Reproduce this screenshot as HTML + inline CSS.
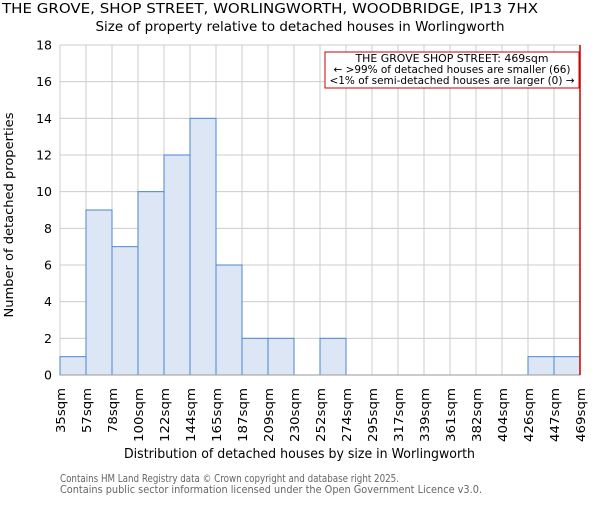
<!DOCTYPE html>
<html><head><meta charset="utf-8"><style>body{margin:0;background:#fff}svg text{font-family:"DejaVu Sans","Liberation Sans",sans-serif}</style></head>
<body>
<svg id="c" width="600" height="500" xmlns="http://www.w3.org/2000/svg">
<text x="2" y="13" font-size="13.4" textLength="536" lengthAdjust="spacingAndGlyphs">THE GROVE, SHOP STREET, WORLINGWORTH, WOODBRIDGE, IP13 7HX</text>
<text x="300" y="31" font-size="13" text-anchor="middle" textLength="409" lengthAdjust="spacingAndGlyphs">Size of property relative to detached houses in Worlingworth</text>
<g id="grid"></g><g id="bars"></g><g id="ticks"></g>
<text x="124" y="458" font-size="13" textLength="351" lengthAdjust="spacingAndGlyphs">Distribution of detached houses by size in Worlingworth</text>
<text transform="translate(13,215) rotate(-90)" font-size="12.5" text-anchor="middle" textLength="205" lengthAdjust="spacingAndGlyphs">Number of detached properties</text>
<g>
<rect x="325" y="52" width="254" height="36" fill="#fff" stroke="#c00" stroke-width="1"/>
<text x="452" y="62" font-size="10.5" text-anchor="middle" textLength="193" lengthAdjust="spacingAndGlyphs">THE GROVE SHOP STREET: 469sqm</text>
<text x="452" y="73" font-size="10.5" text-anchor="middle" textLength="237" lengthAdjust="spacingAndGlyphs">← &gt;99% of detached houses are smaller (66)</text>
<text x="452" y="84" font-size="10.5" text-anchor="middle" textLength="245" lengthAdjust="spacingAndGlyphs">&lt;1% of semi-detached houses are larger (0) →</text>
</g>
<text x="60" y="482" font-size="10.5" fill="#666" textLength="339" lengthAdjust="spacingAndGlyphs">Contains HM Land Registry data © Crown copyright and database right 2025.</text>
<text x="60" y="493" font-size="10.5" fill="#666" textLength="422" lengthAdjust="spacingAndGlyphs">Contains public sector information licensed under the Open Government Licence v3.0.</text>
</svg>
<script>
const categories=["35sqm","57sqm","78sqm","100sqm","122sqm","144sqm","165sqm","187sqm","209sqm","230sqm","252sqm","274sqm","295sqm","317sqm","339sqm","361sqm","382sqm","404sqm","426sqm","447sqm","469sqm"];
const counts=[1,9,7,10,12,14,6,2,2,0,2,0,0,0,0,0,0,0,1,1];
const yTicks=[0,2,4,6,8,10,12,14,16,18];
const markerIndex=20;
const X0=60,X1=580,Y0=375,Y1=45,YMAX=18;
const nb=counts.length;
const x=i=>X0+(X1-X0)*i/nb;
const y=v=>Y0-(Y0-Y1)*v/YMAX;
const NS="http://www.w3.org/2000/svg";
function mk(p,t,a){const e=document.createElementNS(NS,t);for(const k in a)e.setAttribute(k,a[k]);document.getElementById(p).appendChild(e);return e;}
yTicks.forEach(v=>{
 const l=mk('grid','line',{x1:X0,x2:X1,y1:y(v),y2:y(v),stroke:'#ccc'});
 
 
 const t=mk('ticks','text',{x:X0-8,y:y(v)+4.5,'font-size':12.5,'text-anchor':'end'});t.textContent=v;
 
 
});
categories.forEach((c,i)=>{
 const l=mk('grid','line',{x1:x(i),x2:x(i),y1:Y1,y2:Y0,stroke:'#ccc'});
 
 
 const t=mk('ticks','text',{transform:`translate(${x(i)+5},${Y0+13}) rotate(-90)`,'font-size':12.5,'text-anchor':'end',textLength:9*c.length,lengthAdjust:'spacingAndGlyphs'});t.textContent=c;
 
 
});
counts.forEach((v,i)=>{
 if(v<=0)return;
 const r=mk('bars','rect',{x:x(i),y:y(v),width:x(i+1)-x(i),height:y(0)-y(v),fill:'#dce6f4',stroke:'#4a86d0','stroke-width':1});
 
 
});
const ax=mk('bars','line',{x1:X0,x2:X1,y1:Y0,y2:Y0,stroke:'#999'});


const m=mk('bars','line',{x1:x(markerIndex),x2:x(markerIndex),y1:Y1,y2:Y0,stroke:'#c00','stroke-width':1.5});


</script>
</body></html>
